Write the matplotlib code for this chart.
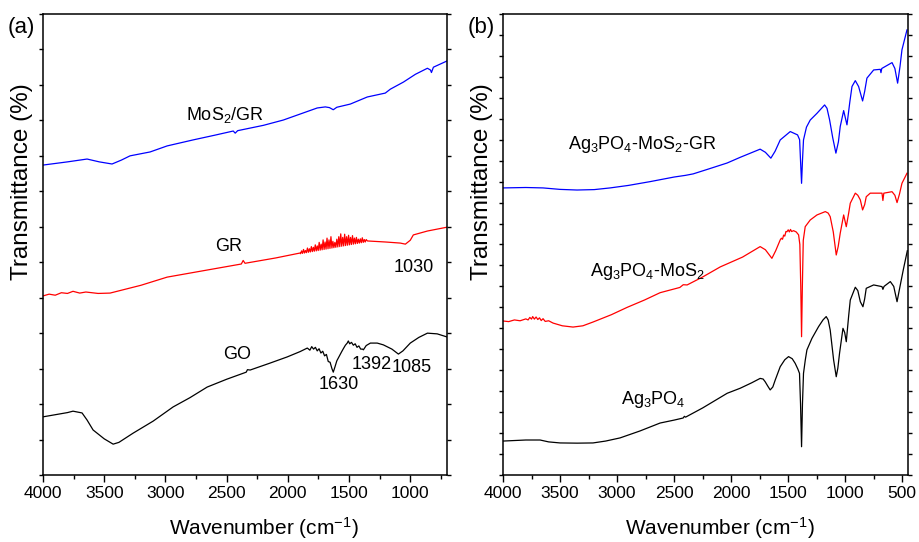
import numpy as np
import matplotlib
matplotlib.use("Agg")
import matplotlib.pyplot as plt
from matplotlib.ticker import MultipleLocator, NullFormatter

plt.rcParams['font.family'] = ['Liberation Sans', 'DejaVu Sans']
plt.rcParams['mathtext.fontset'] = 'custom'
plt.rcParams['mathtext.rm'] = 'Liberation Sans'
plt.rcParams['mathtext.it'] = 'Liberation Sans'
plt.rcParams['mathtext.default'] = 'regular'

# ---------------- Panel (a) data ----------------
mos2gr_wn = [4000, 3800, 3640, 3540, 3436, 3360, 3289, 3125, 2986, 2773, 2600, 2446, 2430, 2410, 2200,
             2037, 1760, 1694, 1660, 1629, 1600, 1490, 1351, 1204, 1163, 1056, 958, 860, 835, 827, 811, 697]
mos2gr_t = [8.74, 8.83, 8.91, 8.83, 8.77, 8.88, 9.0, 9.11, 9.28, 9.45, 9.58, 9.70, 9.64, 9.71, 9.86,
            10.01, 10.35, 10.38, 10.36, 10.30, 10.37, 10.46, 10.66, 10.77, 10.88, 11.08, 11.30, 11.47, 11.42, 11.35, 11.5, 11.68]

gr_wn_a = [4000, 3950, 3900, 3850, 3800, 3755, 3700, 3650, 3550, 3452, 3200, 2986, 2659, 2380, 2365, 2350, 2100, 1900]
gr_t_a = [5.05, 5.10, 5.07, 5.14, 5.12, 5.18, 5.13, 5.16, 5.12, 5.13, 5.35, 5.58, 5.78, 5.95, 6.05, 5.97, 6.12, 6.26]
gr_wn_noise = [1896, 1888, 1880, 1872, 1864, 1856, 1848, 1840, 1832, 1824, 1816, 1808, 1800, 1792, 1784, 1776, 1768,
               1760, 1752, 1744, 1736, 1728, 1720, 1712, 1704, 1696, 1688, 1680, 1672, 1664, 1656, 1648, 1640, 1632,
               1624, 1616, 1608, 1600, 1592, 1584, 1576, 1568, 1560, 1552, 1544, 1536, 1528, 1520, 1512, 1504, 1496,
               1488, 1480, 1472, 1464, 1456, 1448, 1440, 1432, 1424, 1416, 1408, 1400, 1392, 1384, 1376, 1368, 1360]
gr_t_noise = [6.24, 6.32, 6.25, 6.36, 6.26, 6.33, 6.27, 6.40, 6.28, 6.38, 6.29, 6.44, 6.30, 6.42, 6.31, 6.49, 6.32,
              6.46, 6.33, 6.56, 6.34, 6.51, 6.35, 6.63, 6.36, 6.57, 6.37, 6.68, 6.38, 6.63, 6.39, 6.72, 6.40, 6.59,
              6.41, 6.56, 6.42, 6.65, 6.43, 6.72, 6.44, 6.80, 6.45, 6.70, 6.46, 6.79, 6.47, 6.72, 6.48, 6.76, 6.49,
              6.70, 6.50, 6.75, 6.51, 6.68, 6.52, 6.70, 6.53, 6.65, 6.54, 6.66, 6.55, 6.69, 6.56, 6.64, 6.57, 6.64]
gr_wn_b = [1350, 1200, 1081, 1040, 1000, 975, 860, 697]
gr_t_b = [6.6, 6.57, 6.54, 6.51, 6.62, 6.77, 6.88, 6.99]

go_wn = [4000, 3900, 3800, 3755, 3681, 3640, 3591, 3500, 3427, 3380, 3264, 3100, 2937, 2800, 2659, 2500, 2340, 2330,
         2308, 2150, 2005, 1900, 1841, 1820, 1805, 1790, 1775, 1760, 1745, 1730, 1715, 1700, 1685, 1670, 1655, 1640,
         1629, 1615, 1600, 1580, 1560, 1547, 1530, 1515, 1506, 1495, 1480, 1465, 1450, 1435, 1420, 1405, 1390, 1383,
         1360, 1326, 1270, 1220, 1150, 1097, 1060, 1000, 930, 860, 780, 697]
go_t = [1.64, 1.70, 1.76, 1.80, 1.75, 1.55, 1.27, 1.02, 0.87, 0.92, 1.18, 1.52, 1.92, 2.18, 2.48, 2.70, 2.90, 2.97,
        2.96, 3.15, 3.33, 3.48, 3.58, 3.52, 3.62, 3.55, 3.60, 3.50, 3.56, 3.44, 3.49, 3.36, 3.40, 3.20, 3.18, 3.00,
        2.90, 3.05, 3.22, 3.35, 3.48, 3.56, 3.66, 3.72, 3.78, 3.70, 3.74, 3.66, 3.70, 3.60, 3.64, 3.55, 3.55, 3.53,
        3.65, 3.72, 3.72, 3.67, 3.55, 3.41, 3.50, 3.72, 3.88, 4.0, 3.98, 3.89]

# ---------------- Panel (b) data ----------------
agmg_wn = [4000, 3800, 3649, 3500, 3351, 3200, 3061, 2900, 2711, 2500,
           2400, 2333, 2200, 2035, 1921, 1746, 1700, 1652, 1615, 1570,
           1482, 1418, 1400, 1392, 1383, 1375, 1366, 1340, 1307, 1248,
           1181, 1160, 1137, 1110, 1082, 1060, 1044, 1014, 985, 960,
           941, 912, 883, 848, 830, 810, 751, 693, 687, 680,
           590, 565, 541, 520, 503, 459]
agmg_t = [13.7, 13.72, 13.7, 13.63, 13.6, 13.62, 13.7, 13.82, 14.0, 14.22,
          14.3, 14.37, 14.6, 14.89, 15.16, 15.55, 15.4, 15.12, 15.45, 15.99,
          16.39, 16.23, 16.0, 15.0, 13.92, 15.0, 15.99, 16.6, 16.94, 17.26,
          17.66, 17.5, 16.94, 16.1, 15.36, 15.9, 16.63, 17.39, 16.71, 17.8,
          18.54, 18.82, 18.54, 17.85, 18.3, 18.94, 19.33, 19.36, 19.2, 19.4,
          19.68, 19.4, 18.7, 19.5, 20.29, 21.24]

agm_wn = [4000, 3950, 3900, 3850, 3800, 3780, 3765, 3750, 3740, 3725, 3710, 3695, 3680, 3665, 3649, 3630, 3600,
          3561, 3480, 3386, 3300, 3211, 3050, 2912, 2760, 2623, 2450, 2420, 2386, 2250, 2096, 1900, 1746, 1700,
          1643, 1610, 1570, 1560, 1550, 1540, 1530, 1520, 1511, 1500, 1490, 1480, 1470, 1453, 1430, 1409, 1398,
          1390, 1383, 1376, 1368, 1351, 1307, 1248, 1175, 1150, 1132, 1105, 1079, 1062, 1044, 1014, 991, 970,
          956, 912, 890, 868, 848, 830, 816, 781, 678, 670, 662, 590, 565, 546, 525, 503, 459]
agm_t = [7.35, 7.32, 7.40, 7.36, 7.45, 7.40, 7.52, 7.44, 7.56, 7.44, 7.54, 7.42, 7.50, 7.37, 7.46, 7.33, 7.36,
         7.25, 7.12, 7.06, 7.12, 7.3, 7.65, 8.0, 8.35, 8.7, 8.95, 9.08, 9.07, 9.45, 9.93, 10.4, 10.9, 10.75,
         10.34, 10.7, 11.22, 11.3, 11.25, 11.45, 11.4, 11.62, 11.61, 11.7, 11.6, 11.72, 11.62, 11.66, 11.6, 11.46, 11.0,
         9.0, 6.6, 9.0, 11.2, 11.85, 12.17, 12.41, 12.57, 12.5, 12.33, 11.6, 10.5, 10.9, 11.54, 12.41, 11.85, 12.5,
         12.97, 13.45, 13.35, 13.13, 12.65, 12.9, 13.28, 13.45, 13.45, 13.1, 13.45, 13.52, 13.35, 13.0, 13.4, 13.92, 14.4]

ag_wn = [4000, 3800, 3675, 3600, 3500, 3350, 3211, 3100, 2974, 2800,
         2623, 2500, 2421, 2410, 2400, 2250, 2035, 1921, 1820, 1746,
         1720, 1702, 1680, 1658, 1635, 1614, 1570, 1530, 1497, 1465,
         1439, 1415, 1401, 1392, 1383, 1375, 1366, 1350, 1336, 1292,
         1234, 1195, 1167, 1150, 1132, 1102, 1079, 1065, 1050, 1020,
         1005, 991, 970, 956, 912, 890, 868, 845, 830, 816,
         751, 678, 670, 660, 605, 575, 546, 520, 491, 456]
ag_t = [1.62, 1.67, 1.67, 1.58, 1.53, 1.52, 1.53, 1.62, 1.77, 2.1,
        2.48, 2.62, 2.72, 2.8, 2.76, 3.2, 3.9, 4.14, 4.4, 4.61,
        4.58, 4.45, 4.25, 4.06, 4.2, 4.53, 5.17, 5.5, 5.65, 5.55,
        5.33, 5.05, 4.85, 3.4, 1.35, 3.4, 4.85, 5.5, 5.97, 6.52,
        7.08, 7.4, 7.56, 7.4, 6.92, 5.49, 4.69, 5.1, 5.81, 7.0,
        6.8, 6.36, 7.6, 8.35, 8.96, 8.8, 8.27, 8.03, 8.4, 8.91,
        9.07, 8.99, 8.86, 9.0, 9.23, 9.0, 8.27, 9.0, 9.8, 10.7]

xticks_a = [4000, 3500, 3000, 2500, 2000, 1500, 1000]
xticks_b = [4000, 3500, 3000, 2500, 2000, 1500, 1000, 500]

fig = plt.figure(figsize=(9.2, 5.42), dpi=100)
W, H = 920, 542
axa = fig.add_axes([43 / W, 1 - 475 / H, (447 - 43) / W, (475 - 14) / H])
axb = fig.add_axes([503 / W, 1 - 475 / H, (908 - 503) / W, (475 - 14) / H])

lw = 0.9
axa.plot(mos2gr_wn, mos2gr_t, color='#0000ff', lw=lw)
axa.plot(gr_wn_a + gr_wn_noise + gr_wn_b, gr_t_a + gr_t_noise + gr_t_b, color='#ff0000', lw=lw)
axa.plot(go_wn, go_t, color='black', lw=lw)

axb.plot(agmg_wn, agmg_t, color='#0000ff', lw=lw)
axb.plot(agm_wn, agm_t, color='#ff0000', lw=lw)
axb.plot(ag_wn, ag_t, color='black', lw=lw)

axa.set_xlim(4000, 700)
axa.set_ylim(0, 13)
axb.set_xlim(4000, 450)
axb.set_ylim(0, 22)

for ax, ticks, xl_x in ((axa, xticks_a, 0.547), (axb, xticks_b, 0.536)):
    ax.set_xticks(ticks)
    ax.set_xticklabels([str(t) for t in ticks])
    ax.xaxis.set_minor_locator(MultipleLocator(250))
    ax.yaxis.set_major_locator(MultipleLocator(1))
    ax.yaxis.set_major_formatter(NullFormatter())
    ax.tick_params(axis='x', which='major', direction='out', length=5, width=1, labelsize=12.5, pad=3)
    ax.tick_params(axis='x', which='minor', direction='out', length=3, width=1)
    ax.tick_params(axis='y', which='major', direction='out', length=3, width=1, left=True, right=True)
    for s in ax.spines.values():
        s.set_linewidth(1.1)
    ax.set_xlabel('Wavenumber (cm$^{-1}$)', fontsize=15, labelpad=10)
    ax.xaxis.label.set_x(xl_x)
    ax.set_ylabel('Transmittance (%)', fontsize=17.5)
    ax.yaxis.set_label_coords(-0.025, 0.636)

fs = 13
axa.text(2512, 10.15, 'MoS$_2$/GR', fontsize=fs, ha='center', va='center')
axa.text(2487, 6.43, 'GR', fontsize=fs, ha='center', va='center')
axa.text(975, 5.84, '1030', fontsize=fs, ha='center', va='center')
axa.text(2414, 3.41, 'GO', fontsize=fs, ha='center', va='center')
axa.text(1588, 2.54, '1630', fontsize=fs, ha='center', va='center')
axa.text(1318, 3.13, '1392', fontsize=fs, ha='center', va='center')
axa.text(991, 3.02, '1085', fontsize=fs, ha='center', va='center')

axb.text(2781, 15.75, 'Ag$_3$PO$_4$-MoS$_2$-GR', fontsize=fs, ha='center', va='center')
axb.text(2737, 9.69, 'Ag$_3$PO$_4$-MoS$_2$', fontsize=fs, ha='center', va='center')
axb.text(2684, 3.58, 'Ag$_3$PO$_4$', fontsize=fs, ha='center', va='center')

fig.text(21 / W, 1 - 27 / H, '(a)', fontsize=16, ha='center', va='center')
fig.text(481 / W, 1 - 27 / H, '(b)', fontsize=16, ha='center', va='center')

fig.savefig('out.png', dpi=100)
